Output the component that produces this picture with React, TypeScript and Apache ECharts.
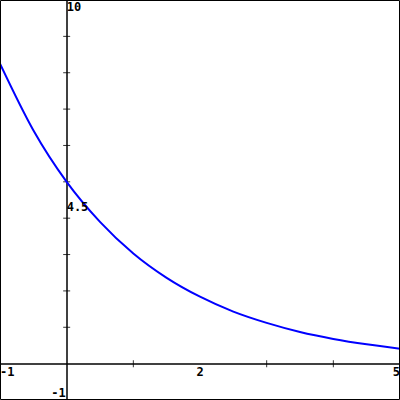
import React, { useEffect, useRef } from "react";
import * as echarts from "echarts";

const xValues = [-1, -0.5, 0, 0.5, 1, 1.5, 2, 2.5, 3, 3.5, 4, 4.5, 5];
const yValues = [8.25, 6.42, 5.0, 3.9, 3.03, 2.36, 1.84, 1.43, 1.12, 0.87, 0.68, 0.53, 0.41];
const xTickValues = [1, 3, 4];
const yTickValues = [1, 2, 3, 4, 5, 6, 7, 8, 9];
const xLabelValues = [-1, 2, 5];
const yLabelValues = [10, 4.5, -1];

const FONT = "bold 12px 'DejaVu Sans Mono', monospace";

export default function App() {
  const ref = useRef<HTMLDivElement>(null);
  useEffect(() => {
    if (!ref.current) return;
    const chart = echarts.init(ref.current, null, { renderer: "svg" });
    chart.setOption({
      animation: false,
      backgroundColor: "#ffffff",
      grid: { left: 0, right: 0, top: 0, bottom: 0, show: false },
      xAxis: {
        type: "value",
        min: -1,
        max: 5,
        interval: 1,
        axisLine: { show: true, onZero: true, lineStyle: { color: "#000", width: 1.5 } },
        axisTick: { show: false },
        axisLabel: { show: false },
        splitLine: { show: false },
      },
      yAxis: {
        type: "value",
        min: -1,
        max: 10,
        interval: 1,
        axisLine: { show: true, onZero: true, lineStyle: { color: "#000", width: 1.5 } },
        axisTick: { show: false },
        axisLabel: { show: false },
        splitLine: { show: false },
      },
      series: [
        {
          type: "line",
          data: xValues.map((x, i) => [x, yValues[i]]),
          smooth: 0.3,
          showSymbol: false,
          lineStyle: { color: "#0000ff", width: 2 },
          itemStyle: { color: "#0000ff" },
          z: 5,
        },
        {
          type: "scatter",
          data: xTickValues.map((x) => [x, 0]),
          symbol: "rect",
          symbolSize: [1, 7],
          itemStyle: { color: "#000" },
          silent: true,
          z: 4,
        },
        {
          type: "scatter",
          data: yTickValues.map((y) => [0, y]),
          symbol: "rect",
          symbolSize: [7, 1],
          itemStyle: { color: "#000" },
          silent: true,
          z: 4,
        },
      ],
    });

    const texts: any[] = [];
    xLabelValues.forEach((v, i) => {
      const p = chart.convertToPixel({ gridIndex: 0 }, [v, 0]) as number[];
      const align = i === 0 ? "left" : i === xLabelValues.length - 1 ? "right" : "center";
      texts.push({
        type: "text",
        x: p[0],
        y: p[1] + 2,
        style: { text: String(v), font: FONT, fill: "#000", textAlign: align, textVerticalAlign: "top" },
        z: 10,
      });
    });
    yLabelValues.forEach((v) => {
      const p = chart.convertToPixel({ gridIndex: 0 }, [0, v]) as number[];
      if (v === -1) {
        texts.push({
          type: "text",
          x: p[0] - 1,
          y: p[1] - 1,
          style: { text: String(v), font: FONT, fill: "#000", textAlign: "right", textVerticalAlign: "bottom" },
          z: 10,
        });
      } else {
        texts.push({
          type: "text",
          x: p[0],
          y: p[1] + 1,
          style: { text: String(v), font: FONT, fill: "#000", textAlign: "left", textVerticalAlign: "top" },
          z: 10,
        });
      }
    });
    texts.push({
      type: "rect",
      shape: { x: 0.5, y: 0.5, width: 399, height: 399 },
      style: { fill: "none", stroke: "#000", lineWidth: 1 },
      z: 20,
    });
    chart.setOption({ graphic: texts });

    return () => chart.dispose();
  }, []);
  return (
    <div
      ref={ref}
      style={{ position: "fixed", left: 0, top: 0, width: 400, height: 400 }}
    />
  );
}
